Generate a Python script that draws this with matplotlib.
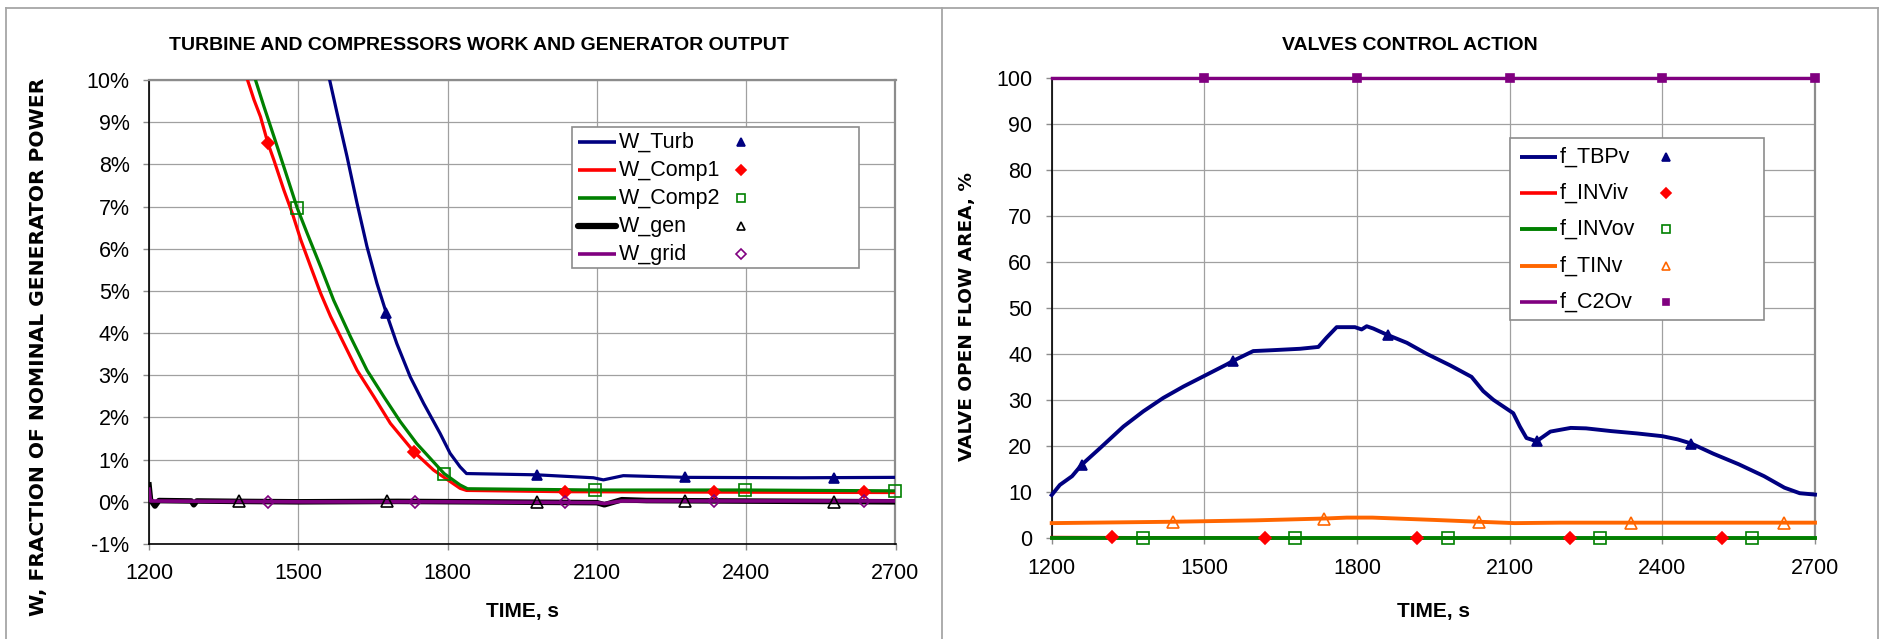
import matplotlib
matplotlib.use('Agg')
import matplotlib.pyplot as plt
import numpy as np
from matplotlib.patches import Rectangle
from matplotlib.lines import Line2D

NARROW = ['Liberation Sans', 'DejaVu Sans']
WIDE = ['DejaVu Sans']
plt.rcParams['font.family'] = NARROW

# ---------------- data: left panel (W, % of nominal generator power) ----------
x_ticks = [1200, 1500, 1800, 2100, 2400, 2700]
x_ticklabels = ['1200', '1500', '1800', '2100', '2400', '2700']
left_yticks = [-1, 0, 1, 2, 3, 4, 5, 6, 7, 8, 9, 10]
left_yticklabels = ['-1%', '0%', '1%', '2%', '3%', '4%', '5%', '6%', '7%', '8%', '9%', '10%']

t_turb = [1563, 1578, 1598, 1618, 1638, 1658, 1677, 1698, 1725, 1752, 1785, 1805, 1825,
          1838, 1979, 2093, 2113, 2153, 2277, 2508, 2700]
w_turb = [10.0, 9.21, 8.18, 7.08, 6.05, 5.18, 4.47, 3.75, 2.96, 2.33, 1.62, 1.15, 0.83,
          0.67, 0.64, 0.57, 0.52, 0.62, 0.58, 0.57, 0.58]
t_comp1 = [1398, 1411, 1424, 1439, 1451, 1471, 1488, 1505, 1525, 1545, 1565, 1585, 1618,
           1652, 1685, 1732, 1772, 1825, 1838, 2036, 2333, 2700]
w_comp1 = [10.0, 9.53, 9.13, 8.5, 8.1, 7.39, 6.84, 6.21, 5.57, 4.94, 4.39, 3.91, 3.12,
           2.49, 1.86, 1.19, 0.75, 0.32, 0.27, 0.24, 0.23, 0.22]
t_comp2 = [1414, 1431, 1451, 1471, 1498, 1518, 1545, 1571, 1605, 1638, 1672, 1705, 1738,
           1793, 1825, 1840, 2097, 2398, 2700]
w_comp2 = [10.0, 9.37, 8.66, 7.94, 6.96, 6.36, 5.57, 4.78, 3.91, 3.12, 2.49, 1.90, 1.38,
           0.67, 0.40, 0.31, 0.28, 0.28, 0.26]
t_gen = [1200, 1203, 1212, 1220, 1285, 1290, 1296, 1380, 1500, 1700, 1850, 2100,
         2115, 2150, 2200, 2700]
w_gen = [0.40, 0.05, -0.10, 0.03, 0.02, -0.07, 0.02, 0.01, 0.0, 0.01, 0.0, -0.02,
         -0.07, 0.05, 0.03, 0.0]
t_grid = [1200, 1203, 1500, 1800, 2100, 2115, 2150, 2700]
w_grid = [0.30, 0.02, 0.0, 0.0, -0.02, -0.04, 0.02, 0.02]

mk_turb = [1677, 1979, 2277, 2577]
mk_comp1 = [1439, 1732, 2036, 2336, 2637]
mk_comp2 = [1498, 1793, 2097, 2398, 2698]
mk_gen = [1380, 1678, 1979, 2277, 2577]
mk_grid = [1439, 1734, 2036, 2336, 2637]

# ---------------- data: right panel (valve open flow area, %) -----------------
right_yticks = [0, 10, 20, 30, 40, 50, 60, 70, 80, 90, 100]
right_yticklabels = ['0', '10', '20', '30', '40', '50', '60', '70', '80', '90', '100']

t_tbpv = [1200, 1216, 1240, 1259, 1295, 1341, 1380, 1419, 1459, 1498, 1544, 1557, 1596,
          1635, 1688, 1724, 1740, 1760, 1796, 1809, 1819, 1832, 1858, 1898, 1937, 1983,
          2025, 2048, 2068, 2107, 2120, 2133, 2153, 2180, 2220, 2250, 2300, 2350, 2400,
          2430, 2457, 2500, 2550, 2600, 2640, 2670, 2700]
f_tbpv = [9.4, 11.6, 13.5, 16.0, 19.6, 24.3, 27.6, 30.5, 33.0, 35.2, 37.8, 38.6, 40.7,
          40.9, 41.2, 41.6, 43.6, 45.9, 45.9, 45.4, 46.1, 45.6, 44.3, 42.5, 40.1, 37.6,
          35.1, 32.0, 30.1, 27.2, 24.3, 21.8, 21.1, 23.2, 24.0, 23.9, 23.3, 22.8, 22.2,
          21.5, 20.6, 18.4, 16.1, 13.5, 11.0, 9.8, 9.5]
t_inviv = [1200, 1500, 1650, 2700]
f_inviv = [0.25, 0.15, 0.0, 0.0]
t_invov = [1200, 2700]
f_invov = [0.0, 0.0]
t_tinv = [1200, 1440, 1600, 1736, 1780, 1830, 1950, 2039, 2110, 2200, 2700]
f_tinv = [3.3, 3.6, 3.9, 4.3, 4.5, 4.5, 4.0, 3.6, 3.3, 3.4, 3.4]
t_c2ov = [1200, 2700]
f_c2ov = [100.0, 100.0]

mk_tbpv = [1259, 1557, 1860, 2154, 2457]
mk_inviv = [1319, 1619, 1917, 2218, 2518]
mk_invov = [1379, 1678, 1979, 2278, 2577]
mk_tinv = [1439, 1736, 2039, 2339, 2640]
mk_c2ov = [1500, 1800, 2100, 2400, 2700]

NAVY, RED, GREEN, BLACK, PURPLE, ORANGE = '#000080', '#FF0000', '#008000', '#000000', '#800080', '#FF6600'

left_series = [
    dict(name='W_Turb', t=t_turb, v=w_turb, mk=mk_turb, color=NAVY, lw=2.3, marker='^', ms=7, mfc=NAVY),
    dict(name='W_Comp1', t=t_comp1, v=w_comp1, mk=mk_comp1, color=RED, lw=2.3, marker='D', ms=6, mfc=RED),
    dict(name='W_Comp2', t=t_comp2, v=w_comp2, mk=mk_comp2, color=GREEN, lw=2.3, marker='s', ms=8, mfc='none'),
    dict(name='W_gen', t=t_gen, v=w_gen, mk=mk_gen, color=BLACK, lw=4.0, marker='^', ms=8, mfc='none'),
    dict(name='W_grid', t=t_grid, v=w_grid, mk=mk_grid, color=PURPLE, lw=2.6, marker='D', ms=6.5, mfc='none'),
]
right_series = [
    dict(name='f_TBPv', t=t_tbpv, v=f_tbpv, mk=mk_tbpv, color=NAVY, lw=2.8, marker='^', ms=7, mfc=NAVY),
    dict(name='f_INViv', t=t_inviv, v=f_inviv, mk=mk_inviv, color=RED, lw=2.0, marker='D', ms=6, mfc=RED),
    dict(name='f_INVov', t=t_invov, v=f_invov, mk=mk_invov, color=GREEN, lw=2.8, marker='s', ms=8, mfc='none'),
    dict(name='f_TINv', t=t_tinv, v=f_tinv, mk=mk_tinv, color=ORANGE, lw=2.8, marker='^', ms=8, mfc='none'),
    dict(name='f_C2Ov', t=t_c2ov, v=f_c2ov, mk=mk_c2ov, color=PURPLE, lw=2.4, marker='s', ms=6, mfc=PURPLE),
]

# ---------------- layout ----------------
W, H = 1881, 639
fig = plt.figure(figsize=(W / 100, H / 100), dpi=100)
fig.patch.set_facecolor('white')

BORDER = '#a6a6a6'
def fig_line(xs, ys):
    fig.add_artist(Line2D([x / W for x in xs], [1 - y / H for y in ys],
                          transform=fig.transFigure, color=BORDER, lw=1.3))
fig_line([6, 1878], [8.3, 8.3])
fig_line([6, 6], [8.3, 639])
fig_line([942.3, 942.3], [8.3, 639])
fig_line([1877.7, 1877.7], [8.3, 639])

LBOX = (149, 895.5, 80, 544)
RBOX = (1051.7, 1815, 78.3, 538.3)

def add_axes_px(box):
    x0, x1, yt, yb = box
    return fig.add_axes([x0 / W, 1 - yb / H, (x1 - x0) / W, (yb - yt) / H])

def style(ax, yticks, yticklabels):
    ax.set_xlim(1200, 2700)
    ax.set_ylim(yticks[0], yticks[-1])
    ax.set_xticks(x_ticks)
    ax.set_xticklabels(x_ticklabels)
    ax.set_yticks(yticks)
    ax.set_yticklabels(yticklabels)
    ax.grid(True, color='#a0a0a0', lw=0.9)
    ax.set_axisbelow(True)
    for s in ['left', 'bottom']:
        ax.spines[s].set_color('black')
        ax.spines[s].set_linewidth(1.2)
    for s in ['top', 'right']:
        ax.spines[s].set_color('#8c8c8c')
        ax.spines[s].set_linewidth(1.6)
    ax.tick_params(direction='out', length=4.5, width=1.0, color='#8c8c8c',
                   labelsize=15.5, pad=9.5)

def draw_series(ax, series, clip=True):
    for s in series:
        ax.plot(s['t'], s['v'], color=s['color'], lw=s['lw'], solid_joinstyle='round',
                clip_on=clip, zorder=3)
    for s in series:
        my = np.interp(s['mk'], s['t'], s['v'])
        ax.plot(s['mk'], my, ls='none', marker=s['marker'], ms=s['ms'], mfc=s['mfc'],
                mec=s['color'], mew=1.2, clip_on=False, zorder=4)

def draw_legend(ax, box, frame, series, line_x, label_x, marker_x, row_y0, row_dy, fs):
    x0, x1, yt, yb = box
    fx = lambda px: (px - x0) / (x1 - x0)
    fy = lambda py: (yb - py) / (yb - yt)
    fl, ft, fr, fb = frame
    ax.add_patch(Rectangle((fx(fl), fy(fb)), fx(fr) - fx(fl), fy(ft) - fy(fb),
                           transform=ax.transAxes, facecolor='white', edgecolor='#8c8c8c',
                           lw=1.2, zorder=5, clip_on=False))
    for i, s in enumerate(series):
        y = fy(row_y0 + i * row_dy)
        ax.plot([fx(line_x[0]), fx(line_x[1])], [y, y], transform=ax.transAxes,
                color=s['color'], lw=max(s['lw'], 2.6) if s['name'] != 'W_gen' else 4.5,
                solid_capstyle='butt' if s['name'] != 'W_gen' else 'round',
                clip_on=False, zorder=6)
        ax.text(fx(label_x), y, s['name'], transform=ax.transAxes, ha='left', va='center',
                fontsize=fs, zorder=6)
        ax.plot([fx(marker_x)], [y], transform=ax.transAxes, ls='none', marker=s['marker'],
                ms=s['ms'] * 0.8, mfc=s['mfc'], mec=s['color'], mew=1.2, clip_on=False, zorder=6)

# ---------------- left panel ----------------
axL = add_axes_px(LBOX)
style(axL, left_yticks, left_yticklabels)
draw_series(axL, left_series, clip=True)
draw_legend(axL, LBOX, (571.7, 127.3, 859, 268.3), left_series,
            (578, 616), 619, 741, 142.3, 28.0, 15.5)

# ---------------- right panel ----------------
axR = add_axes_px(RBOX)
style(axR, right_yticks, right_yticklabels)
draw_series(axR, right_series, clip=False)
draw_legend(axR, RBOX, (1510.3, 137.7, 1764.3, 320), right_series,
            (1520, 1557), 1560, 1665.7, 156.7, 36.4, 15.5)

# ---------------- texts ----------------
fig.text(479 / W, 1 - 45 / H, 'TURBINE AND COMPRESSORS WORK AND GENERATOR OUTPUT',
         ha='center', va='center', fontsize=14, fontweight='bold')
fig.text(1410 / W, 1 - 45 / H, 'VALVES CONTROL ACTION',
         ha='center', va='center', fontsize=14, fontweight='bold')
fig.text((LBOX[0] + LBOX[1]) / 2 / W, 1 - 612 / H, 'TIME, s',
         ha='center', va='center', fontsize=15, fontweight='bold')
fig.text((RBOX[0] + RBOX[1]) / 2 / W, 1 - 611 / H, 'TIME, s',
         ha='center', va='center', fontsize=15, fontweight='bold')
fig.text(39 / W, 1 - 346.5 / H, 'W, FRACTION OF NOMINAL GENERATOR POWER',
         ha='center', va='center', rotation=90, fontsize=14.6, fontweight='bold', family=WIDE)
fig.text(967 / W, 1 - 316.5 / H, 'VALVE OPEN FLOW AREA, %',
         ha='center', va='center', rotation=90, fontsize=13.3, fontweight='bold', family=WIDE)

fig.savefig('out.png', dpi=100, facecolor='white')
